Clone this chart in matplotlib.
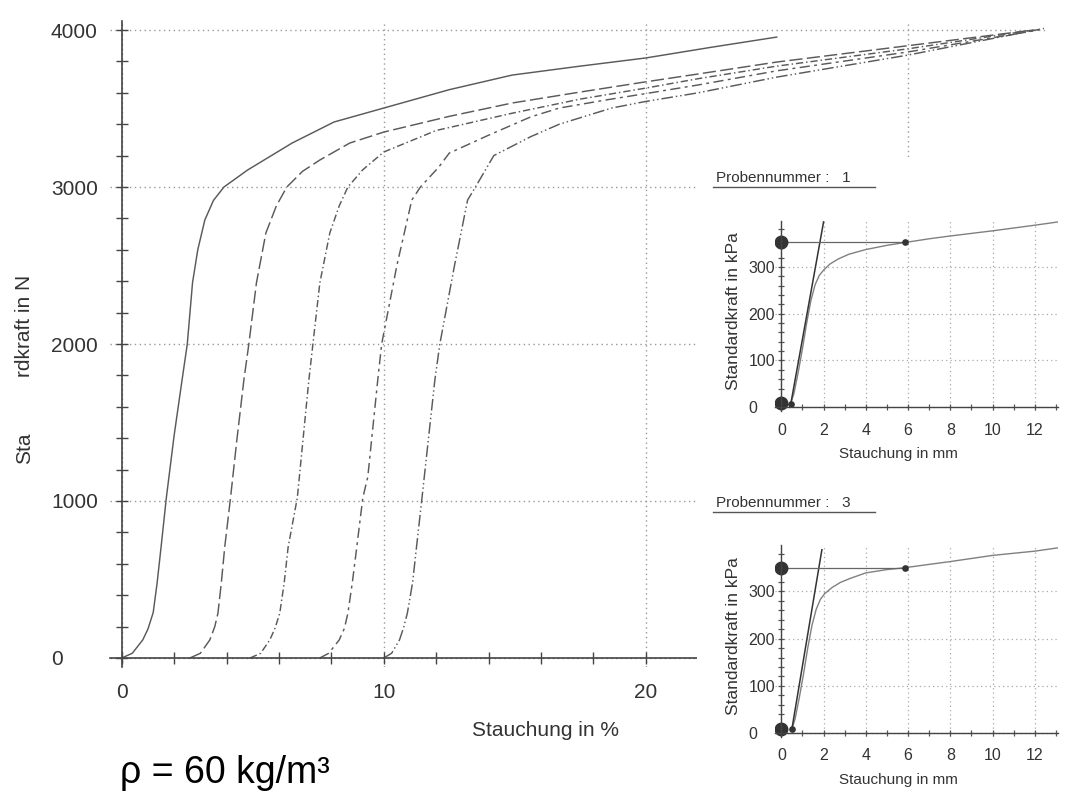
import matplotlib
matplotlib.use('Agg')
import matplotlib.pyplot as plt
from matplotlib.patches import Rectangle
from matplotlib.lines import Line2D
from matplotlib.ticker import MultipleLocator

plt.rcParams['font.family'] = ['Liberation Sans', 'DejaVu Sans']

# main chart: Standardkraft (N) over Stauchung (%), five samples
c1_x = [0, 0.4, 0.8, 1.0, 1.2, 1.35, 1.5, 1.7, 2.0, 2.3, 2.5, 2.7, 2.9, 3.17, 3.5, 3.9, 4.8, 6.5, 8.1, 10.0, 12.5, 14.9, 17.5, 20.0, 22.5, 25.0]
c1_y = [0, 30, 115, 185, 290, 480, 707, 1020, 1420, 1770, 2000, 2390, 2600, 2790, 2915, 3000, 3108, 3280, 3414, 3503, 3620, 3713, 3770, 3822, 3890, 3955]

c2_x = [2.6, 3.0, 3.36, 3.55, 3.67, 3.8, 3.93, 4.15, 4.4, 4.66, 4.85, 5.14, 5.5, 5.9, 6.3, 6.9, 7.56, 8.7, 10.0, 12.5, 14.9, 17.5, 20.0, 22.0, 25.0, 30.0, 34.8]
c2_y = [0, 30, 115, 200, 285, 480, 707, 1020, 1400, 1770, 2000, 2390, 2707, 2880, 3000, 3100, 3172, 3280, 3350, 3450, 3535, 3605, 3670, 3720, 3796, 3900, 4000]

c3_x = [4.9, 5.3, 5.65, 5.85, 6.03, 6.2, 6.35, 6.7, 7.14, 7.56, 7.94, 8.3, 8.63, 9.2, 10.0, 12.0, 14.9, 17.5, 20.0, 22.0, 25.0, 30.0, 34.8]
c3_y = [0, 30, 115, 190, 285, 480, 707, 1020, 1770, 2390, 2707, 2880, 3000, 3110, 3223, 3360, 3470, 3560, 3630, 3690, 3770, 3880, 4000]

c4_x = [7.56, 7.9, 8.3, 8.5, 8.63, 8.8, 8.97, 9.2, 9.39, 9.77, 9.92, 10.5, 11.07, 11.4, 12.1, 12.5, 14.0, 15.6, 16.7, 18.5, 20.0, 22.0, 25.0, 30.0, 35.0]
c4_y = [0, 30, 115, 190, 285, 480, 707, 1020, 1153, 1770, 2000, 2500, 2917, 3000, 3127, 3216, 3330, 3446, 3503, 3555, 3595, 3650, 3740, 3860, 4000]

c5_x = [10.0, 10.3, 10.6, 10.75, 10.9, 11.1, 11.25, 11.45, 11.95, 12.14, 12.7, 13.2, 13.5, 14.2, 14.9, 15.6, 16.7, 18.7, 20.0, 22.0, 25.0, 30.0, 35.2]
c5_y = [0, 30, 115, 190, 285, 480, 707, 1006, 1770, 2000, 2500, 2917, 3000, 3200, 3260, 3320, 3400, 3503, 3545, 3600, 3700, 3840, 4010]

styles = ['-', (0, (9, 3)), (0, (5, 2, 1, 2)), (0, (7, 3, 2, 3)), (0, (8, 2, 1, 2, 1, 2))]

# small charts: Probennummer 1 and 3 (kPa over mm)
p1_x = [0.45, 0.6, 0.8, 1.0, 1.2, 1.4, 1.6, 1.8, 2.0, 2.3, 2.7, 3.2, 4.0, 5.0, 5.85, 7.0, 8.0, 10.0, 12.0, 13.1]
p1_y = [9, 30, 75, 125, 180, 228, 262, 282, 293, 306, 317, 327, 337, 346, 352, 360, 366, 377, 389, 396]
p1_tan_x = [0.45, 2.0]
p1_tan_y = [8, 396]
p1_level = 353
p1_knee = 5.85

p3_x = [0.5, 0.65, 0.85, 1.05, 1.25, 1.45, 1.65, 1.85, 2.05, 2.4, 2.8, 3.3, 4.0, 5.0, 5.85, 7.0, 8.0, 10.0, 12.0, 13.1]
p3_y = [9, 30, 75, 125, 180, 228, 262, 283, 295, 308, 319, 328, 339, 346, 350, 357, 363, 376, 385, 392]
p3_tan_x = [0.5, 1.92]
p3_tan_y = [9, 388]
p3_level = 350
p3_knee = 5.85

W, H = 1068, 793


def fx(px):
    return px / W


def fy(py):
    return 1 - py / H


fig = plt.figure(figsize=(10.68, 7.93), dpi=100)
fig.patch.set_facecolor('white')

ax = fig.add_axes([fx(110), fy(667.4), fx(1045) - fx(110), fy(20.6) - fy(667.4)])
for (xs, ys), ls in zip([(c1_x, c1_y), (c2_x, c2_y), (c3_x, c3_y), (c4_x, c4_y), (c5_x, c5_y)], styles):
    ax.plot(xs, ys, color='#5a5a5a', lw=1.05, ls=ls)

ax.set_xlim(-0.45, 35.24)
ax.set_ylim(-60, 4060)
for s in ['top', 'right']:
    ax.spines[s].set_visible(False)
ax.spines['left'].set_position(('data', 0))
ax.spines['bottom'].set_position(('data', 0))
for s in ['left', 'bottom']:
    ax.spines[s].set_color('#444444')
    ax.spines[s].set_linewidth(1.2)
ax.set_xticks([0, 10, 20])
ax.xaxis.set_minor_locator(MultipleLocator(2))
ax.set_yticks([0, 1000, 2000, 3000, 4000])
ax.yaxis.set_minor_locator(MultipleLocator(200))
ax.tick_params(which='both', direction='inout', length=9, width=1, color='#444444')
ax.tick_params(axis='y', pad=46.5, labelsize=15, labelcolor='#333333')
ax.tick_params(axis='x', pad=13.5, labelsize=15, labelcolor='#333333')
for t in ax.get_yticklabels():
    t.set_ha('left')
grid_style = dict(ls=(0, (1, 2.5)), color='#999999', lw=1)
ax.grid(True, which='major', **grid_style)
ax.axvline(30, **grid_style)

# white area where the small charts sit
fig.patches.append(Rectangle((fx(697), 0), 1 - fx(697), fy(157), transform=fig.transFigure,
                             facecolor='white', edgecolor='none', zorder=1))

fig.text(fx(25), fy(326), 'rdkraft in N', rotation=90, ha='center', va='center',
         fontsize=15, color='#333333')
fig.text(fx(25), fy(448), 'Sta', rotation=90, ha='center', va='center',
         fontsize=15, color='#333333')
fig.text(fx(545), fy(731), 'Stauchung in %', ha='center', va='center', fontsize=15, color='#333333')
fig.text(fx(120), fy(773), 'ρ = 60 kg/m³', ha='left', va='center', fontsize=27, color='black')


def draw_inset(top_px, bottom_px, title_py, title, xs, ys, tan_x, tan_y, level, knee):
    a = fig.add_axes([fx(775), fy(bottom_px), fx(1058) - fx(775), fy(top_px) - fy(bottom_px)])
    a.set_zorder(2)
    a.patch.set_alpha(0)
    a.plot(xs, ys, color='#808080', lw=1)
    a.plot(tan_x, tan_y, color='#333333', lw=1.1)
    a.plot([0, knee], [level, level], color='#666666', lw=0.9)
    a.plot([0, 0], [level, 9], 'o', color='#333333', ms=9, ls='none')
    a.plot([knee, tan_x[0]], [level, tan_y[0]], 'o', color='#333333', ms=3.8, ls='none')
    a.set_xlim(-0.3, 13.1)
    a.set_ylim(-8, 398)
    for s in ['top', 'right']:
        a.spines[s].set_visible(False)
    a.spines['left'].set_position(('data', 0))
    a.spines['bottom'].set_position(('data', 0))
    for s in ['left', 'bottom']:
        a.spines[s].set_color('#444444')
        a.spines[s].set_linewidth(1)
    a.set_xticks([0, 2, 4, 6, 8, 10, 12])
    a.xaxis.set_minor_locator(MultipleLocator(1))
    a.set_yticks([0, 100, 200, 300])
    a.yaxis.set_minor_locator(MultipleLocator(20))
    a.tick_params(which='both', direction='inout', length=5, width=0.9, color='#555555')
    a.tick_params(axis='y', pad=21.3, labelsize=11.5, labelcolor='#333333')
    a.tick_params(axis='x', pad=8.5, labelsize=11.5, labelcolor='#333333')
    for t in a.get_yticklabels():
        t.set_ha('left')
    a.grid(True, which='major', ls=(0, (1, 2.5)), color='#aaaaaa', lw=0.9)
    fig.text(fx(898), fy(bottom_px + 43), 'Stauchung in mm', ha='center', va='center',
             fontsize=11, color='#333333', zorder=3)
    fig.text(fx(733), fy((top_px + bottom_px) / 2 - 5), 'Standardkraft in kPa', rotation=90,
             ha='center', va='center', fontsize=12.5, color='#333333', zorder=3)
    fig.text(fx(716), fy(title_py), title, ha='left', va='center', fontsize=11,
             color='#333333', zorder=3)
    fig.lines.append(Line2D([fx(713), fx(875)], [fy(title_py + 9), fy(title_py + 9)],
                            transform=fig.transFigure, color='#555555', lw=1, zorder=3))
    return a


draw_inset(221, 411, 178, 'Probennummer :   1', p1_x, p1_y, p1_tan_x, p1_tan_y, p1_level, p1_knee)
draw_inset(545, 737, 503, 'Probennummer :   3', p3_x, p3_y, p3_tan_x, p3_tan_y, p3_level, p3_knee)

fig.savefig('out.png', dpi=100, facecolor='white')
